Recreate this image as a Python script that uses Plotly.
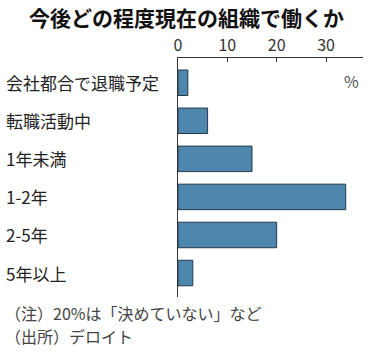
import plotly.graph_objects as go

categories = ["会社都合で退職予定", "転職活動中", "1年未満", "1-2年", "2-5年", "5年以上"]
values = [2, 6, 15, 34, 20, 3]
tick_vals = [0, 10, 20, 30]
tick_text = ["0", "10", "20", "30"]
title_text = "今後どの程度現在の組織で働くか"
notes = ["（注）20%は「決めていない」など", "（出所）デロイト"]

W, H = 373, 355
L, R, T, B = 178, 10, 58, 58
pw, ph = W - L - R, H - T - B

def px_x(p):
    return (p - L) / pw

def px_y(p):
    return 1 - (p - T) / ph

FONT = "Noto Sans CJK JP"

fig = go.Figure()
fig.add_trace(go.Bar(
    x=values, y=categories, orientation="h",
    marker=dict(color="#4f86ad", line=dict(color="#24394a", width=1)),
    width=0.67, hoverinfo="skip",
))

annotations = []
for c in categories:
    annotations.append(dict(
        x=px_x(4), xref="paper", y=c, yref="y", text=c, showarrow=False,
        xanchor="left", yanchor="middle",
        font=dict(family=FONT, size=17, color="#222"),
    ))
annotations.append(dict(
    x=px_x(186), xref="paper", y=px_y(17), yref="paper", text="<b>" + title_text + "</b>",
    showarrow=False, xanchor="center", yanchor="middle",
    font=dict(family=FONT, size=21, color="#111"),
))
annotations.append(dict(
    x=px_x(351), xref="paper", y=px_y(81), yref="paper", text="%",
    showarrow=False, xanchor="center", yanchor="middle",
    font=dict(family=FONT, size=16, color="#555"),
))
for i, n in enumerate(notes):
    annotations.append(dict(
        x=px_x(3), xref="paper", y=px_y(313 + 23 * i), yref="paper", text=n,
        showarrow=False, xanchor="left", yanchor="middle",
        font=dict(family=FONT, size=16, color="#444"),
    ))

fig.update_layout(
    width=W, height=H,
    margin=dict(l=L, r=R, t=T, b=B, pad=0),
    paper_bgcolor="white", plot_bgcolor="white",
    showlegend=False,
    annotations=annotations,
    xaxis=dict(
        range=[0, 37.5], side="top", tickvals=tick_vals, ticktext=tick_text,
        ticks="inside", ticklen=4, tickcolor="#333", showline=True, linecolor="#333",
        linewidth=1, showgrid=False, zeroline=False,
        tickfont=dict(family="Liberation Sans Narrow, " + FONT, size=16, color="#333"),
        fixedrange=True,
    ),
    yaxis=dict(
        type="category", categoryorder="array", categoryarray=categories,
        range=[5.63, -0.65], showticklabels=False, ticks="",
        showline=True, linecolor="#333", linewidth=1, showgrid=False, zeroline=False,
        fixedrange=True,
    ),
)

fig.write_html("out.html")
